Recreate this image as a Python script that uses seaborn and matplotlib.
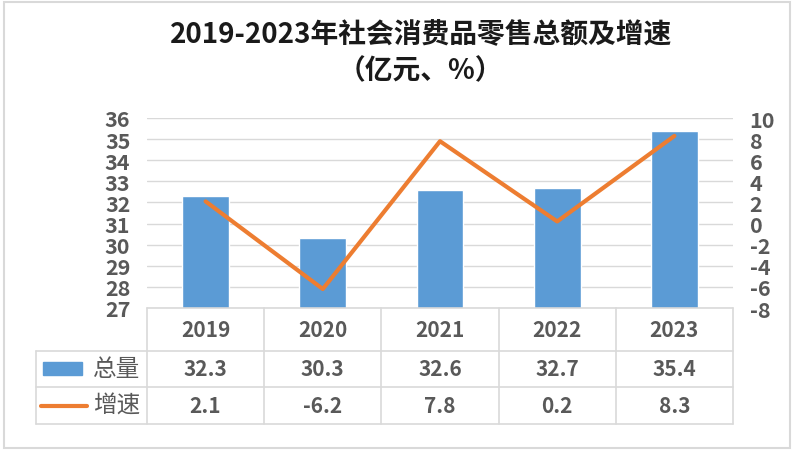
import numpy as np
import matplotlib
matplotlib.use("Agg")
import matplotlib.pyplot as plt
import matplotlib.transforms as mtrans
from matplotlib.patches import Rectangle
from matplotlib.lines import Line2D
import seaborn as sns

# data
years = ["2019", "2020", "2021", "2022", "2023"]
total = [32.3, 30.3, 32.6, 32.7, 35.4]      # 亿元
growth = [2.1, -6.2, 7.8, 0.2, 8.3]         # %
row_names = ["总量", "增速"]
title = "2019-2023年社会消费品零售总额及增速\n（亿元、%）"

BLUE = "#5B9BD5"
ORANGE = "#ED7D31"
GRID = "#D9D9D9"
TXT = "#595959"

sns.set_theme(style="white")
plt.rcParams["font.family"] = ["Noto Sans CJK SC", "DejaVu Sans"]
plt.rcParams["axes.unicode_minus"] = False

W, H = 794, 452
fig = plt.figure(figsize=(W / 100, H / 100), dpi=100)
fig.patch.set_facecolor("white")

def fx(px): return px / W
def fy(py): return 1 - py / H

# plot area in pixels: x 147..733, y 119..309
ax = fig.add_axes([fx(147), fy(309), fx(733 - 147), (309 - 119) / H])
ax2 = ax.twinx()

sns.barplot(x=years, y=total, color=BLUE, width=0.4, ax=ax, saturation=1)
ax.set_ylim(27, 36)
ax.set_yticks(range(27, 37))
ax.set_xlim(-0.5, len(years) - 0.5)
ax.yaxis.grid(True, color=GRID, linewidth=1)
ax.set_axisbelow(True)
ax.set_xticks([])
ax.set_xlabel("")

sns.lineplot(x=np.arange(len(years)), y=growth, ax=ax2, color=ORANGE,
             linewidth=3, sort=False)
ax2.set_ylim(-8, 10)
ax2.set_yticks(range(-8, 11, 2))
ax2.set_xlim(-0.5, len(years) - 0.5)
ax2.grid(False)

for a in (ax, ax2):
    for s in a.spines.values():
        s.set_visible(False)
    a.tick_params(axis="y", length=0, labelsize=15.5, labelcolor=TXT)
    for lab in a.get_yticklabels():
        lab.set_fontweight("bold")
ax.tick_params(axis="y", pad=12)
ax2.yaxis.set_tick_params(which="major", pad=12)

# title
fig.text(0.53, fy(53), title, ha="center", va="center", fontsize=20,
         fontweight="bold", color="#1a1a1a", linespacing=1.35)

# data table below the axis
tr = mtrans.blended_transform_factory(ax.transData, fig.transFigure)
y_top, y_r1, y_r2, y_bot = fy(309), fy(352), fy(388), fy(425)
n = len(years)
# horizontal lines
fig.add_artist(Line2D([-0.5, n - 0.5], [y_top, y_top], transform=tr, color=GRID, lw=1.2))
for yy in (y_r1, y_r2, y_bot):
    fig.add_artist(Line2D([fx(36), fx(733)], [yy, yy], transform=fig.transFigure, color=GRID, lw=1.2))
# vertical lines
for i in range(n + 1):
    fig.add_artist(Line2D([i - 0.5, i - 0.5], [y_top, y_bot], transform=tr, color=GRID, lw=1.2))
fig.add_artist(Line2D([fx(36), fx(36)], [y_r1, y_bot], transform=fig.transFigure, color=GRID, lw=1.2))

yc0 = (y_top + y_r1) / 2
yc1 = (y_r1 + y_r2) / 2
yc2 = (y_r2 + y_bot) / 2
for i, yr in enumerate(years):
    fig.text(i, yc0, yr, transform=tr, ha="center", va="center",
             fontsize=15, fontweight="bold", color=TXT)
    fig.text(i, yc1, f"{total[i]:.1f}", transform=tr, ha="center", va="center",
             fontsize=15, fontweight="bold", color=TXT)
    fig.text(i, yc2, f"{growth[i]:.1f}", transform=tr, ha="center", va="center",
             fontsize=15, fontweight="bold", color=TXT)

# legend keys in the first column
fig.add_artist(Rectangle((fx(43), yc1 - 6 / H), fx(39), 13 / H,
                         transform=fig.transFigure, color=BLUE))
fig.add_artist(Line2D([fx(41), fx(87)], [yc2, yc2], transform=fig.transFigure,
                      color=ORANGE, lw=3))
fig.text(fx(93), yc1, row_names[0], ha="left", va="center", fontsize=17, color=TXT)
fig.text(fx(93), yc2, row_names[1], ha="left", va="center", fontsize=17, color=TXT)

# outer frame
fig.add_artist(Rectangle((fx(4), fy(449)), fx(786), (449 - 3) / H,
                         transform=fig.transFigure, fill=False, edgecolor=GRID, lw=1.5))

fig.savefig("out.png", dpi=100)
